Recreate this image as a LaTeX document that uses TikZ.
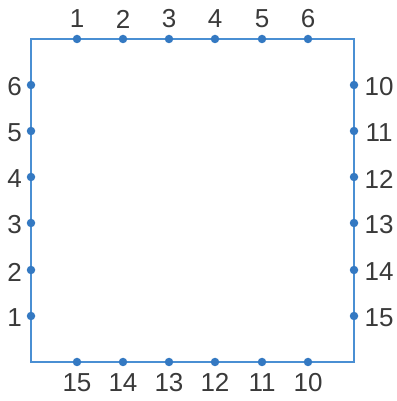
\documentclass[tikz,border=0pt]{standalone}
\usepackage{fontspec}
\setmainfont{Liberation Sans}
\begin{document}
\begin{tikzpicture}[x=1pt,y=1pt,
  dotpt/.style={circle,fill=dotblue,inner sep=0pt,minimum size=8.5pt},
  lbl/.style={font=\fontsize{26}{30}\selectfont,text=textgray,inner sep=0pt},
  edge/.style={draw=lineblue,line width=1.3pt}]
\definecolor{lineblue}{HTML}{4A8FD3}
\definecolor{dotblue}{HTML}{3479C2}
\definecolor{textgray}{HTML}{3A3A3A}
\useasboundingbox (0,0) rectangle (396,401);
\coordinate (TL) at (31,362);
\coordinate (TR) at (354,362);
\coordinate (BL) at (31,39);
\coordinate (BR) at (354,39);
\draw[edge] (TL) -- (TR) -- (BR) -- (BL) -- cycle;
% top
\foreach \n/\x in {1/77,2/123,3/169,4/215,5/262,6/308}{
  \node[dotpt] (t\n) at (\x,362) {};
  \node[lbl] (tl\n) at (\x,382) {\n};
}
% bottom
\foreach \n/\x in {15/77,14/123,13/169,12/215,11/262,10/308}{
  \node[dotpt] (b\n) at (\x,39) {};
  \node[lbl] (bl\n) at (\x,18.5) {\n};
}
% left
\foreach \n/\y in {6/316,5/270,4/224,3/178,2/131,1/85}{
  \node[dotpt] (l\n) at (31,\y) {};
  \node[lbl] (ll\n) at (14.5,\y-2) {\n};
}
% right
\foreach \n/\y in {10/316,11/270,12/224,13/178,14/131,15/85}{
  \node[dotpt] (r\n) at (354,\y) {};
  \node[lbl] (rl\n) at (379,\y-2) {\n};
}
\end{tikzpicture}
\end{document}
